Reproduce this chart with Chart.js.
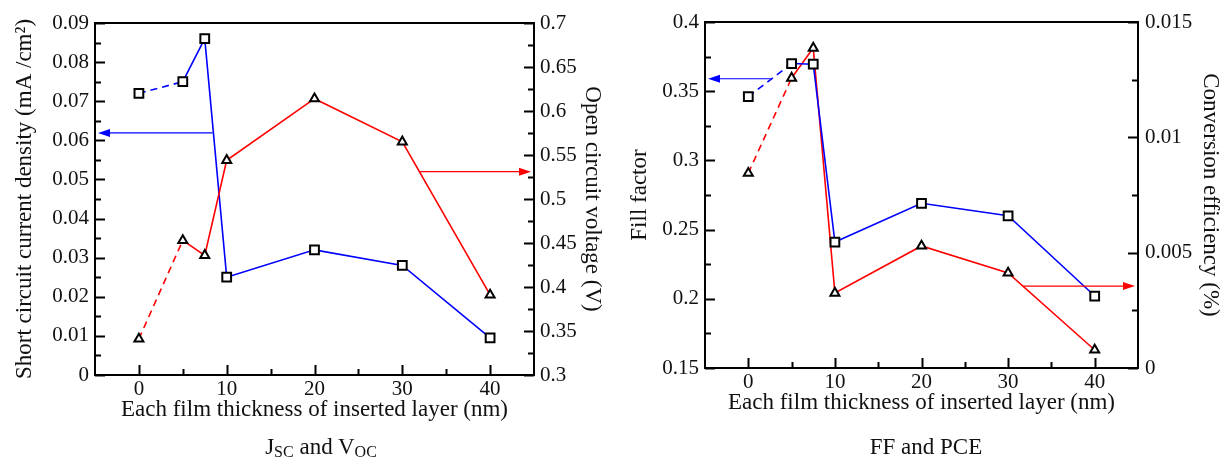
<!DOCTYPE html>
<html>
<head>
<meta charset="utf-8">
<script src="https://cdn.jsdelivr.net/npm/chart.js@4.4.0/dist/chart.umd.min.js"></script>
<style>
  body { margin:0; background:#fff; width:1231px; height:466px; position:relative; overflow:hidden; font-family:"Liberation Serif", serif; }
  canvas { position:absolute; top:0; }
  #c-left { left:0; }
  #c-right { left:600px; }
  .caption { position:absolute; top:434px; font-size:23px; color:#111; white-space:nowrap; transform:translateX(-50%); }
  .caption sub { font-size:16px; vertical-align:-3px; }
</style>
</head>
<body>
<canvas id="c-left" width="610" height="466"></canvas>
<canvas id="c-right" width="631" height="466"></canvas>
<div class="caption" style="left:321px">J<sub>SC</sub> and V<sub>OC</sub></div>
<div class="caption" style="left:926px">FF and PCE</div>
<script>
// ─── DATA ────────────────────────────────────────────────────────────────────
const thickness = [0, 5, 7.5, 10, 20, 30, 40];
const jsc = [0.072, 0.075, 0.086, 0.025, 0.032, 0.028, 0.0095];
const voc = [0.341, 0.453, 0.436, 0.544, 0.614, 0.565, 0.391];
const ff  = [0.346, 0.370, 0.3695, 0.241, 0.269, 0.260, 0.202];
const pce = [0.00845, 0.01257, 0.01387, 0.00325, 0.00529, 0.00412, 0.00078];

const thickTicks = [0, 10, 20, 30, 40];
const jscTicks = [0, 0.01, 0.02, 0.03, 0.04, 0.05, 0.06, 0.07, 0.08, 0.09];
const vocTicks = [0.3, 0.35, 0.4, 0.45, 0.5, 0.55, 0.6, 0.65, 0.7];
const ffTicks  = [0.15, 0.2, 0.25, 0.3, 0.35, 0.4];
const pceTicks = [0, 0.005, 0.01, 0.015];

// arrows: [x from, x to, y]
const jscArrow = [8.4, -5, 0.0619];
const vocArrow = [31.9, 45, 0.531];
const ffArrow  = [2.6, -5, 0.359];
const pceArrow = [31.7, 45, 0.00355];

// ─── HELPERS ─────────────────────────────────────────────────────────────────
const FONT = '"Liberation Serif", "Times New Roman", serif';
const INK = '#111';
const BLUE = '#0000ff', RED = '#ff0000';

const tickLabel = v => String(+v.toFixed(4));
const fixedTicks = values => scale => { scale.ticks = values.map(v => ({ value: v })); };
const fixedSize = size => scale => { if (scale.isHorizontal()) scale.height = size; else scale.width = size; };

function series(data, color, axis, style) {
  return {
    data: thickness.map((x, i) => ({ x, y: data[i] })),
    yAxisID: axis,
    borderColor: color,
    borderWidth: 1.6,
    tension: 0,
    pointStyle: style,
    pointRadius: style === 'triangle' ? 5.2 : 6.2,
    pointHoverRadius: style === 'triangle' ? 5.2 : 6.2,
    pointBorderColor: '#000',
    pointBackgroundColor: '#fff',
    pointBorderWidth: 2,
    segment: { borderDash: ctx => ctx.p0DataIndex === 0 ? [7, 5] : undefined }
  };
}

function axis(opts) {
  return {
    type: 'linear',
    position: opts.position,
    min: opts.min, max: opts.max,
    afterBuildTicks: fixedTicks(opts.ticks),
    afterFit: fixedSize(opts.size),
    grid: { display: false, drawTicks: false },
    border: { display: false },
    ticks: { font: { family: FONT, size: 21 }, color: INK, padding: opts.pad, callback: tickLabel, maxRotation: 0 },
    title: { display: true, text: opts.title, color: INK, font: { family: FONT, size: 23 }, padding: opts.titlePad }
  };
}

// frame, inward ticks and arrows drawn through the chart's own scales
function framePlugin(arrows) {
  return {
    id: 'frame',
    afterDatasetsDraw(chart) {
      const { ctx, chartArea: a } = chart;
      ctx.save();
      ctx.strokeStyle = '#000';
      ctx.lineWidth = 2;
      ctx.strokeRect(a.left, a.top, a.right - a.left, a.bottom - a.top);
      Object.values(chart.scales).forEach(s => {
        const vals = s.ticks.map(t => t.value);
        const marks = [];
        vals.forEach((v, i) => {
          marks.push([v, 10]);
          if (i < vals.length - 1) marks.push([(v + vals[i + 1]) / 2, 6]);
        });
        ctx.beginPath();
        marks.forEach(([v, len]) => {
          const p = Math.round(s.getPixelForValue(v)) + 0.5;
          if (s.position === 'bottom') { ctx.moveTo(p, a.bottom); ctx.lineTo(p, a.bottom - len); }
          else if (s.position === 'left') { ctx.moveTo(a.left, p); ctx.lineTo(a.left + len, p); }
          else { ctx.moveTo(a.right, p); ctx.lineTo(a.right - len, p); }
        });
        ctx.stroke();
      });
      arrows.forEach(([arr, yId, color]) => {
        const x = chart.scales.x, y = chart.scales[yId];
        const x0 = x.getPixelForValue(arr[0]), x1 = x.getPixelForValue(arr[1]);
        const py = y.getPixelForValue(arr[2]);
        const dir = x1 > x0 ? 1 : -1;
        const tip = x1 - dir * 3;
        ctx.strokeStyle = color;
        ctx.fillStyle = color;
        ctx.lineWidth = 1.2;
        ctx.beginPath();
        ctx.moveTo(x0, py);
        ctx.lineTo(tip - dir * 8, py);
        ctx.stroke();
        ctx.beginPath();
        ctx.moveTo(tip, py);
        ctx.lineTo(tip - dir * 12, py - 4);
        ctx.lineTo(tip - dir * 12, py + 4);
        ctx.closePath();
        ctx.fill();
      });
      ctx.restore();
    }
  };
}

// ─── LEFT: JSC / VOC ─────────────────────────────────────────────────────────
new Chart(document.getElementById('c-left'), {
  type: 'line',
  data: { datasets: [series(voc, RED, 'yv', 'triangle'), series(jsc, BLUE, 'yj', 'rect')] },
  options: {
    responsive: false, animation: false,
    layout: { padding: { top: 23, bottom: 40, left: 0, right: 0 } },
    plugins: { legend: { display: false }, tooltip: { enabled: false } },
    scales: {
      x: axis({ position: 'bottom', min: -5, max: 45, ticks: thickTicks, size: 51, pad: 2,
        title: 'Each film thickness of inserted layer (nm)', titlePad: { top: 0, bottom: 2 } }),
      yj: axis({ position: 'left', min: 0, max: 0.09, ticks: jscTicks, size: 95, pad: 6,
        title: 'Short circuit current density (mA /cm²)', titlePad: { top: 11, bottom: 0 } }),
      yv: axis({ position: 'right', min: 0.3, max: 0.7, ticks: vocTicks, size: 76, pad: 6,
        title: 'Open circuit voltage (V)', titlePad: { top: 4, bottom: 0 } })
    }
  },
  plugins: [framePlugin([[jscArrow, 'yj', BLUE], [vocArrow, 'yv', RED]])]
});

// ─── RIGHT: FF / PCE ─────────────────────────────────────────────────────────
new Chart(document.getElementById('c-right'), {
  type: 'line',
  data: { datasets: [series(ff, BLUE, 'yf', 'rect'), series(pce, RED, 'yp', 'triangle')] },
  options: {
    responsive: false, animation: false,
    layout: { padding: { top: 22, bottom: 40, left: 0, right: 0 } },
    plugins: { legend: { display: false }, tooltip: { enabled: false } },
    scales: {
      x: axis({ position: 'bottom', min: -5, max: 45, ticks: thickTicks, size: 58, pad: 2,
        title: 'Each film thickness of inserted layer (nm)', titlePad: { top: 0, bottom: 9 } }),
      yf: axis({ position: 'left', min: 0.15, max: 0.4, ticks: ffTicks, size: 105, pad: 6,
        title: 'Fill factor', titlePad: { top: 26, bottom: 0 } }),
      yp: axis({ position: 'right', min: 0, max: 0.015, ticks: pceTicks, size: 93, pad: 7,
        title: 'Conversion efficiency (%)', titlePad: { top: 7, bottom: 0 } })
    }
  },
  plugins: [framePlugin([[ffArrow, 'yf', BLUE], [pceArrow, 'yp', RED]])]
});
</script>
</body>
</html>
